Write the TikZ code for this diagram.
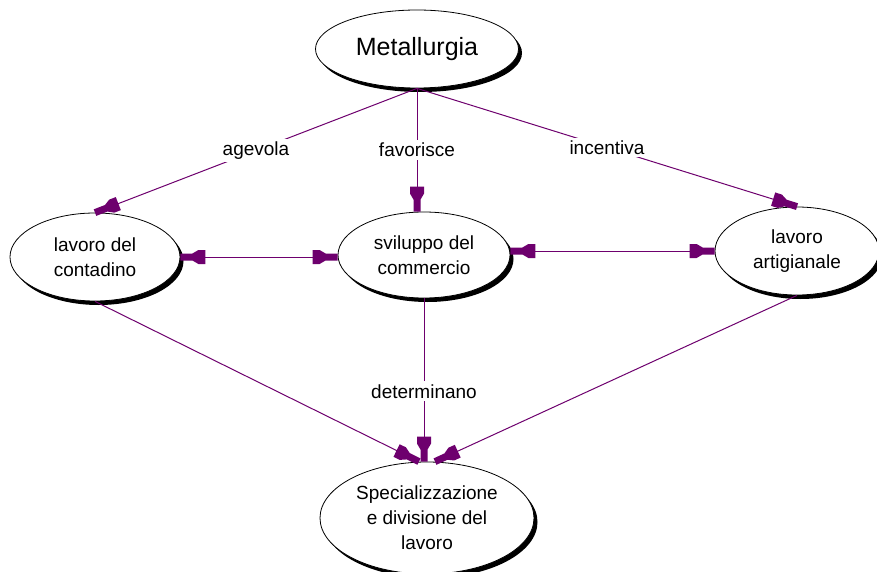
\documentclass[tikz,border=0pt]{standalone}
\usepackage{fontspec}
\setmainfont{Liberation Sans}
\usetikzlibrary{shapes.geometric,arrows.meta,shadows,calc}
\definecolor{arr}{RGB}{110,0,110}
\pgfdeclarearrow{
  name = CMap,
  parameters = {},
  setup code = {
    \pgfarrowssettipend{0pt}
    \pgfarrowssetbackend{-25pt}
    \pgfarrowssetlineend{-20pt}
    \pgfarrowshullpoint{0pt}{3.5pt}
    \pgfarrowshullpoint{0pt}{-3.5pt}
    \pgfarrowshullpoint{-25pt}{7pt}
    \pgfarrowshullpoint{-25pt}{-7pt}
  },
  drawing code = {
    \pgfpathmoveto{\pgfqpoint{0pt}{3.5pt}}
    \pgfpathlineto{\pgfqpoint{-12pt}{3.5pt}}
    \pgfpathlineto{\pgfqpoint{-18pt}{7pt}}
    \pgfpathlineto{\pgfqpoint{-25pt}{7pt}}
    \pgfpathlineto{\pgfqpoint{-25pt}{-7pt}}
    \pgfpathlineto{\pgfqpoint{-18pt}{-7pt}}
    \pgfpathlineto{\pgfqpoint{-12pt}{-3.5pt}}
    \pgfpathlineto{\pgfqpoint{0pt}{-3.5pt}}
    \pgfpathclose
    \pgfusepathqfill
  }
}
\tikzset{
  concept/.style={ellipse, draw=black, line width=0.8pt, fill=white, inner sep=0pt,
    align=center, font=\fontsize{19}{25}\selectfont,
    drop shadow={shadow xshift=3.5pt, shadow yshift=-4pt, opacity=1, fill=black}},
  link/.style={draw=arr, line width=1pt, -{CMap}},
  biline/.style={draw=arr, line width=1pt, {CMap}-{CMap}},
  lbl/.style={fill=white, inner sep=3pt, text=black, font=\fontsize{19}{22}\selectfont}
}
\begin{document}
\begin{tikzpicture}[x=1pt,y=1pt]
\useasboundingbox (0,0) rectangle (877,571);
\fill[white] (0,0) rectangle (877,571);
\node[concept, minimum width=203pt, minimum height=78pt, font=\fontsize{25}{28}\selectfont] (met) at (417,522) {Metallurgia};
\node[concept, minimum width=170pt, minimum height=88pt] (con) at (95,314) {lavoro del\\contadino};
\node[concept, minimum width=172pt, minimum height=86pt] (com) at (424,316) {sviluppo del\\commercio};
\node[concept, minimum width=164pt, minimum height=88pt] (art) at (797,320) {lavoro\\artigianale};
\node[concept, minimum width=214pt, minimum height=112pt] (spec) at (427,53) {Specializzazione\\e divisione del\\lavoro};

\draw[link] (met.south) -- node[lbl]{agevola} (con.north);
\draw[link] (met.south) -- node[lbl]{favorisce} (met.south |- com.north);
\draw[link] (met.south) -- node[lbl]{incentiva} (art.north);
\draw[biline] (con.east) -- (con.east -| com.west);
\draw[biline] (com.east |- art.west) -- (art.west);
\draw[link] (con.south) -- ($(spec.north)+(-8,0)$);
\draw[link] (com.south) -- node[lbl, pos=0.57]{determinano} (com.south |- spec.north);
\draw[link] (art.south) -- ($(spec.north)+(8,0)$);
\end{tikzpicture}
\end{document}
